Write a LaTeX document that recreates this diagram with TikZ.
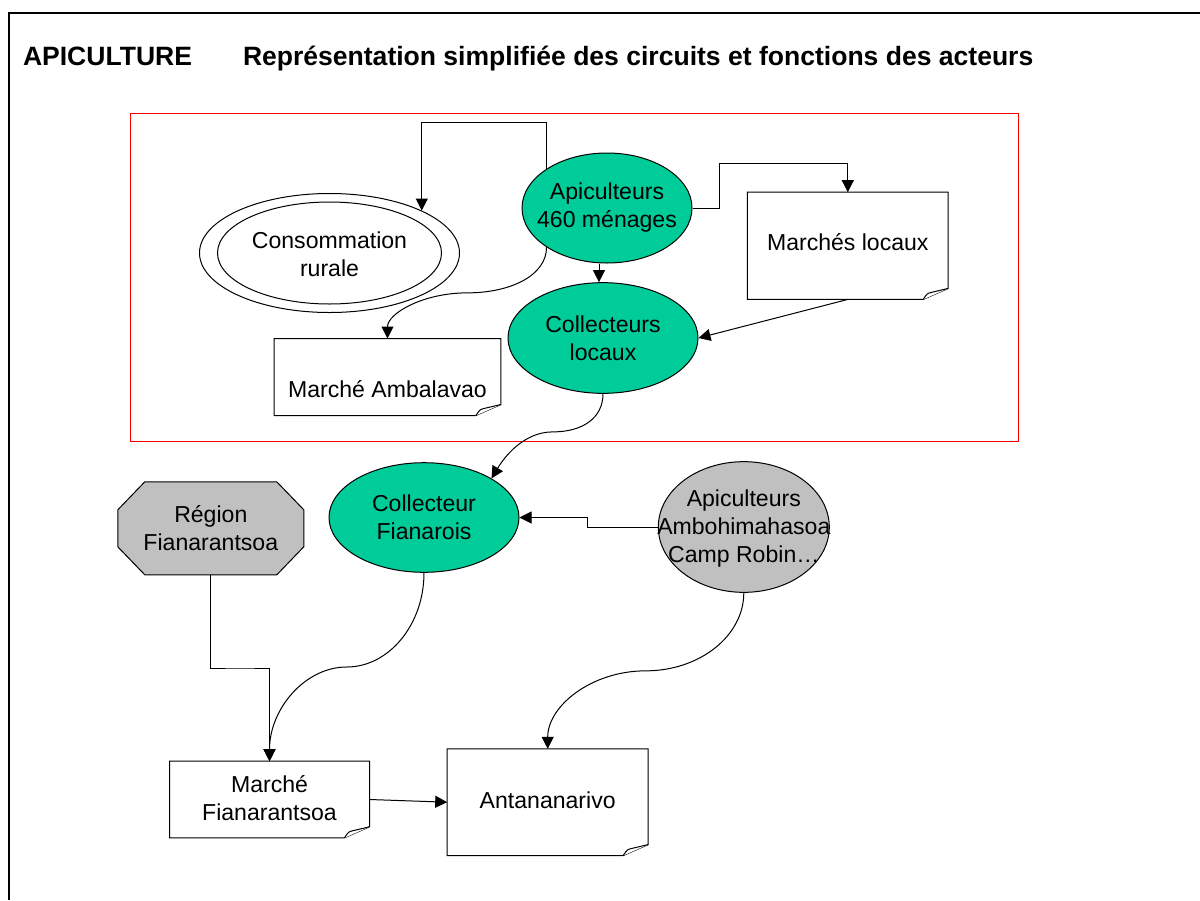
\documentclass[tikz,border=0pt]{standalone}
\usepackage{fontspec}
\setmainfont{Liberation Sans}
\usetikzlibrary{shapes.geometric,arrows.meta,calc}
\definecolor{vertapi}{RGB}{0,204,153}
\definecolor{grisreg}{RGB}{192,192,192}

\begin{document}
\begin{tikzpicture}[x=0.75pt,y=0.75pt,yscale=-1,xscale=1,line width=0.75pt,
    txt/.style={font=\fontsize{17.3}{21}\selectfont, align=center, inner sep=0pt},
    titre/.style={font=\fontsize{19.9}{24}\selectfont\bfseries, anchor=base west, inner sep=0pt},
    ellvert/.style={ellipse, draw, fill=vertapi, inner sep=0pt},
    ellgris/.style={ellipse, draw, fill=grisreg, inner sep=0pt},
    feuille/.style={rectangle, inner sep=0pt},
    fleche/.style={-{Triangle[length=9pt,width=9pt]}}]

        \useasboundingbox (0,0) rectangle (1200,900);

        %Shape: Frame
        \draw [line width=1.5pt] (9,900) -- (9,13) -- (1200,13) ;
        % Text Node
        \node [titre] (apic) at (22.5,65) {APICULTURE};
        % Text Node
        \node [titre] (repr) at (242.5,65) {Représentation simplifiée des circuits et fonctions des acteurs};
        %Shape: Rectangle
        \draw [color=red] (130,113) rectangle (1018,441) ;

        %Shape: Ellipse
        \node [ellvert, minimum width=127.5pt, minimum height=82.5pt] (api) at (607,208) {};
        %Shape: Ellipse
        \node [ellipse, draw, fill=white, inner sep=0pt, minimum width=195pt, minimum height=89.25pt] (cons) at (329.5,253) {};
        \node [ellipse, draw, inner sep=0pt, minimum width=168pt, minimum height=76.5pt] (consin) at (cons.center) {};
        %Shape: Ellipse
        \node [ellvert, minimum width=142.5pt, minimum height=83pt] (col) at (603,338) {};
        %Shape: Ellipse
        \node [ellvert, minimum width=142.5pt, minimum height=82.2pt] (fian) at (424,517.5) {};
        %Shape: Ellipse
        \node [ellgris, minimum width=128.25pt, minimum height=98pt] (gris) at (743.8,527) {};
        %Shape: Octagon
        \node [feuille, minimum width=138.75pt, minimum height=69pt] (reg) at (210.8,528.3) {};
        \draw [fill=grisreg] ($(reg.north west)+(27,0)$) -- ($(reg.north east)+(-27,0)$) -- ($(reg.north east)+(0,28)$) -- ($(reg.south east)+(0,-28)$)
              -- ($(reg.south east)+(-27,0)$) -- ($(reg.south west)+(27,0)$) -- ($(reg.south west)+(0,-28)$) -- ($(reg.north west)+(0,28)$) -- cycle ;

        %Shape: Document
        \node [feuille, minimum width=149.8pt, minimum height=79.7pt] (marloc) at (847.8,245.8) {};
        \node [feuille, minimum width=169.4pt, minimum height=57pt] (amb) at (387.5,377) {};
        \node [feuille, minimum width=149.25pt, minimum height=56.7pt] (mf) at (269.5,799.5) {};
        \node [feuille, minimum width=150pt, minimum height=79.3pt] (ant) at (547.7,802.2) {};
        \foreach \n in {marloc,amb,mf,ant} {
            \draw [fill=white] (\n.north west) -- (\n.north east) -- ($(\n.south east)+(0,-11)$) -- ($(\n.south east)+(-25,0)$) -- (\n.south west) -- cycle ;
            \draw [fill=white] ($(\n.south east)+(-25,0)$) .. controls ($(\n.south east)+(-21,-6)$) .. ($(\n.south east)+(-17,-7)$) -- ($(\n.south east)+(0,-11)$) ;
        }

        % Text Node
        \node [txt] (api-t) at (api.center) {Apiculteurs\\460 ménages};
        % Text Node
        \node [txt] (cons-t) at ($(cons.center)+(0,1)$) {Consommation\\rurale};
        % Text Node
        \node [txt] (col-t) at (col.center) {Collecteurs\\locaux};
        % Text Node
        \node [txt] (fian-t) at (fian.center) {Collecteur\\Fianarois};
        % Text Node
        \node [txt] (gris-t) at ($(gris.center)+(0,2)$) {Apiculteurs\\Ambohimahasoa\\Camp Robin…};
        % Text Node
        \node [txt] (reg-t) at (reg.center) {Région\\Fianarantsoa};
        % Text Node
        \node [txt] (marloc-t) at ($(marloc.center)+(0,-4)$) {Marchés locaux};
        % Text Node
        \node [txt] (amb-t) at ($(amb.center)+(0,12)$) {Marché Ambalavao};
        % Text Node
        \node [txt] (mf-t) at ($(mf.center)+(0,-1)$) {Marché\\Fianarantsoa};
        % Text Node
        \node [txt] (ant-t) at ($(ant.center)+(0,-2)$) {Antananarivo};

        %Straight Lines
        \draw [fleche] (api.north west) -- ++(0,-46) -| (cons.north east) ;
        %Straight Lines
        \draw [fleche] (api.east) -| ++(27,-45) -| (marloc.north) ;
        %Straight Lines
        \draw [fleche] ($(api.south)+(-8,0)$) -- ($(col.north)+(-4,0)$) ;
        %Straight Lines
        \draw [fleche] (marloc.south) -- (col.east) ;
        %Curve Lines
        \draw [fleche] (api.south west) .. controls +(0,28) and +(44,0) .. ($(api.south west)!0.5!(amb.north)$) .. controls +(-44,0) and +(0,-25) .. (amb.north) ;
        %Curve Lines
        \draw [fleche] (col.south) .. controls +(0,24) and +(30,0) .. ($(col.south)!0.45!(fian.north east)$) .. controls +(-30,0) and +(12,-20) .. (fian.north east) ;
        %Straight Lines
        \draw [fleche] (gris.west) -- ++(-70,0) |- (fian.east) ;
        %Straight Lines
        \draw [fleche] (reg.south) |- ($(reg.south)!0.5!(mf.north)$) -| (mf.north) ;
        %Curve Lines
        \draw [fleche] (fian.south) .. controls +(0,52) and +(42,0) .. ($(fian.south)!0.5!(mf.north)$) .. controls +(-42,0) and +(0,-52) .. (mf.north) ;
        %Curve Lines
        \draw [fleche] (gris.south) .. controls +(0,43) and +(54,0) .. ($(gris.south)!0.5!(ant.north)$) .. controls +(-54,0) and +(0,-43) .. (ant.north) ;
        %Straight Lines
        \draw [fleche] (mf.east) -- (ant.west) ;

\end{tikzpicture}
\end{document}
